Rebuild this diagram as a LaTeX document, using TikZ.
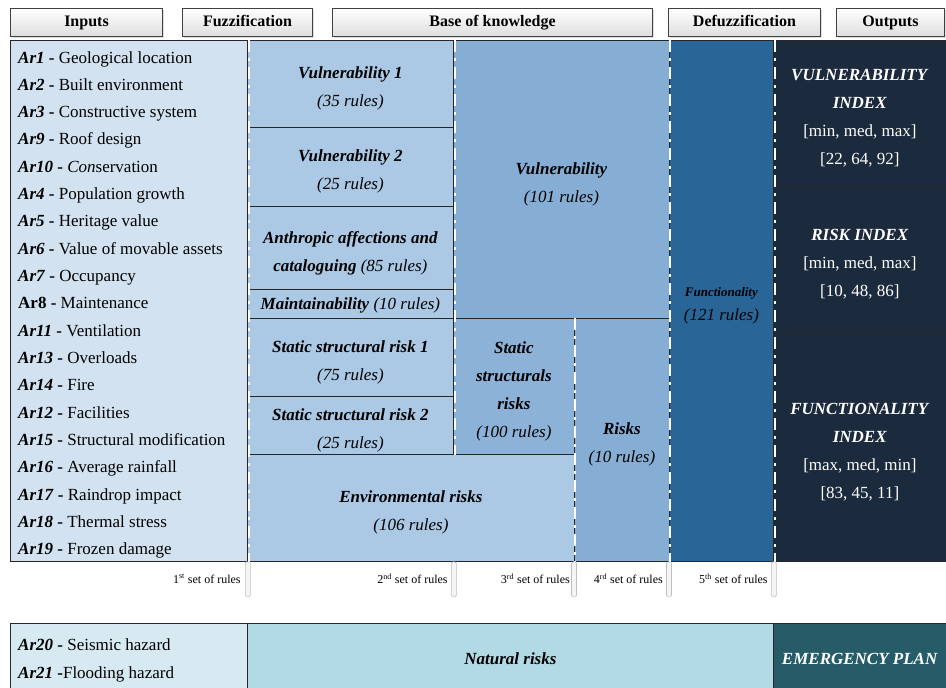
\documentclass[tikz,border=0pt]{standalone}
\usepackage{fontspec}
\setmainfont{Liberation Serif}
\usetikzlibrary{positioning,shadows}

\definecolor{inpfill}{HTML}{D2E2F0}
\definecolor{fuzfill}{HTML}{ABC8E4}
\definecolor{vulfill}{HTML}{86ADD4}
\definecolor{sstfill}{HTML}{8CB2D8}
\definecolor{funfill}{HTML}{2A6598}
\definecolor{outfill}{HTML}{1B2A3C}
\definecolor{natinp}{HTML}{D7E9F1}
\definecolor{natfill}{HTML}{B2DAE4}
\definecolor{emgfill}{HTML}{255C67}

\newcommand{\arlab}[1]{\textbf{\textit{Ar#1}} \textbf{-}}
\newcommand{\bi}[1]{\textbf{\textit{#1}}}

\begin{document}
\begin{tikzpicture}[x=1pt, y=-1pt,
    headbox/.style={draw=black!75, line width=1pt, top color=white, bottom color=black!13,
      drop shadow={opacity=0.25, shadow xshift=1pt, shadow yshift=-1pt},
      anchor=north west, minimum height=28pt, inner sep=0pt, text height=11pt, text depth=3pt,
      font=\bfseries\fontsize{16}{18}\selectfont},
    block/.style={draw=black!85, line width=0.8pt, anchor=north west, inner sep=0pt},
    blocktxt/.style={align=center, inner sep=0pt, yshift=-5pt, font=\fontsize{17}{28}\selectfont},
    item/.style={anchor=base west, inner sep=0pt, font=\fontsize{17}{20}\selectfont},
    sepline/.style={draw=black!85, line width=1pt},
    sepdash/.style={draw=white, line width=2pt, dash pattern=on 12pt off 6pt on 3pt off 6pt},
    tabbar/.style={draw=black!25, fill=black!4, line width=0.6pt, rounded corners=1.5pt},
    setlab/.style={anchor=east, inner sep=0pt, font=\fontsize{12}{14}\selectfont}]

    \useasboundingbox (0,0) rectangle (946,688);

    % Header boxes
    \node[headbox, minimum width=152pt] (hinp) at (10,8) {Inputs};
    \node[headbox, minimum width=130pt] (hfuz) at (182,8) {Fuzzification};
    \node[headbox, minimum width=320pt] (hbase) at (332,8) {Base of knowledge};
    \node[headbox, minimum width=152pt] (hdef) at (668,8) {Defuzzification};
    \node[headbox, minimum width=108pt] (hout) at (836,8) {Outputs};

    % Inputs column
    \node[block, fill=inpfill, minimum width=237pt, minimum height=521pt] (inp) at (10,40) {};
    \foreach \txt [count=\i] in {
        {\arlab{1} Geological location},
        {\arlab{2} Built environment},
        {\arlab{3} Constructive system},
        {\arlab{9} Roof design},
        {\arlab{10} \textit{Con}servation},
        {\arlab{4} Population growth},
        {\arlab{5} Heritage value},
        {\arlab{6} Value of movable assets},
        {\arlab{7} Occupancy},
        {\textbf{Ar8 -} Maintenance},
        {\arlab{11} Ventilation},
        {\arlab{13} Overloads},
        {\arlab{14} Fire},
        {\arlab{12} Facilities},
        {\arlab{15} Structural modification},
        {\arlab{16} Average rainfall},
        {\arlab{17} Raindrop impact},
        {\arlab{18} Thermal stress},
        {\arlab{19} Frozen damage}}
        \node[item] (ar\i) at (18,{63+27.33*(\i-1)}) {\txt};

    % Fuzzification blocks
    \node[block, fill=fuzfill, minimum width=206pt, minimum height=87pt] (vul1) at (247,40) {};
    \node[block, fill=fuzfill, minimum width=206pt, minimum height=79pt] (vul2) at (247,127) {};
    \node[block, fill=fuzfill, minimum width=206pt, minimum height=83pt] (anth) at (247,206) {};
    \node[block, fill=fuzfill, minimum width=206pt, minimum height=29pt] (mant) at (247,289) {};
    \node[block, fill=fuzfill, minimum width=206pt, minimum height=78pt] (sst1) at (247,318) {};
    \node[block, fill=fuzfill, minimum width=206pt, minimum height=58pt] (sst2) at (247,396) {};
    \node[block, fill=fuzfill, minimum width=327pt, minimum height=107pt] (envr) at (247,454) {};
    \node[blocktxt] (vul1t) at (vul1.center) {\bi{Vulnerability 1}\\\textit{(35 rules)}};
    \node[blocktxt] (vul2t) at (vul2.center) {\bi{Vulnerability 2}\\\textit{(25 rules)}};
    \node[blocktxt] (antht) at (anth.center) {\bi{Anthropic affections and}\\\bi{cataloguing} \textit{(85 rules)}};
    \node[blocktxt, yshift=3pt] (mantt) at (mant.center) {\bi{Maintainability} \textit{(10 rules)}};
    \node[blocktxt] (sst1t) at (sst1.center) {\bi{Static structural risk 1}\\\textit{(75 rules)}};
    \node[blocktxt] (sst2t) at (sst2.center) {\bi{Static structural risk 2}\\\textit{(25 rules)}};
    \node[blocktxt] (envrt) at (envr.center) {\bi{Environmental risks}\\\textit{(106 rules)}};

    % Base of knowledge blocks
    \node[block, fill=vulfill, minimum width=216pt, minimum height=278pt] (vul) at (453,40) {};
    \node[block, fill=sstfill, minimum width=121pt, minimum height=136pt] (sst) at (453,318) {};
    \node[block, fill=vulfill, minimum width=95pt, minimum height=243pt] (risk) at (574,318) {};
    \node[blocktxt] (vult) at (vul.center) {\bi{Vulnerability}\\\textit{(101 rules)}};
    \node[blocktxt] (sstt) at (sst.center) {\bi{Static}\\\bi{structurals}\\\bi{risks}\\\textit{(100 rules)}};
    \node[blocktxt] (riskt) at (risk.center) {\bi{Risks}\\\textit{(10 rules)}};

    % Defuzzification
    \node[block, fill=funfill, minimum width=104pt, minimum height=521pt] (func) at (669,40) {};
    \node[blocktxt, font=\fontsize{17}{24}\selectfont] (funct) at (func.center) {{\fontsize{13}{24}\selectfont\bi{Functionality}}\\\textit{(121 rules)}};

    % Outputs
    \node[block, fill=outfill, minimum width=173pt, minimum height=146pt] (outv) at (773,40) {};
    \node[block, fill=outfill, minimum width=173pt, minimum height=146pt] (outr) at (773,186) {};
    \node[block, fill=outfill, minimum width=173pt, minimum height=229pt] (outf) at (773,332) {};
    \node[blocktxt, text=white] (outvt) at (outv.center) {\bi{VULNERABILITY}\\\bi{INDEX}\\{[min, med, max]}\\{[22, 64, 92]}};
    \node[blocktxt, text=white] (outrt) at (outr.center) {\bi{RISK INDEX}\\{[min, med, max]}\\{[10, 48, 86]}};
    \node[blocktxt, text=white] (outft) at (outf.center) {\bi{FUNCTIONALITY}\\\bi{INDEX}\\{[max, med, min]}\\{[83, 45, 11]}};

    % Dashed separators between the sets of rules
    \foreach \a/\b in {inp.north east/inp.south east, vul1.north east/sst2.south east,
        risk.north west/risk.south west, func.north west/func.south west, func.north east/func.south east} {
        \draw[sepline] (\a) -- (\b);
        \draw[sepdash] ([xshift=1.3pt]\a) -- ([xshift=1.3pt]\b);
    }

    % Tabs below the separators
    \coordinate (t2) at (vul1.east |- envr.south);
    \foreach \p in {inp.south east, t2, risk.south west, func.south west, func.south east}
        \draw[tabbar] ([xshift=-2.5pt]\p) rectangle ([xshift=2.5pt,yshift=-35pt]\p);

    % Set of rules labels
    \node[setlab] (set1) at ([xshift=-7pt,yshift=-17pt]inp.south east) {1\textsuperscript{st} set of rules};
    \node[setlab] (set2) at ([xshift=-6pt,yshift=-17pt]t2) {2\textsuperscript{nd} set of rules};
    \node[setlab] (set3) at ([xshift=-4pt,yshift=-17pt]risk.south west) {3\textsuperscript{rd} set of rules};
    \node[setlab] (set4) at ([xshift=-6pt,yshift=-17pt]func.south west) {4\textsuperscript{rd} set of rules};
    \node[setlab] (set5) at ([xshift=-6pt,yshift=-17pt]func.south east) {5\textsuperscript{th} set of rules};

    % Natural risks row
    \node[block, fill=natinp, minimum width=237pt, minimum height=65pt] (inpn) at (10,623) {};
    \node[block, fill=natfill, minimum width=526pt, minimum height=65pt] (natr) at (247,623) {};
    \node[block, fill=emgfill, minimum width=173pt, minimum height=65pt] (emgp) at (773,623) {};
    \node[item] (ar20) at (18,650) {\arlab{20} Seismic hazard};
    \node[item] (ar21) at (18,678) {\textbf{\textit{Ar21}} \textbf{-}Flooding hazard};
    \node[blocktxt, yshift=2pt] (natrt) at (natr.center) {\bi{Natural risks}};
    \node[blocktxt, yshift=2pt, text=white] (emgpt) at (emgp.center) {\bi{EMERGENCY PLAN}};
\end{tikzpicture}
\end{document}
